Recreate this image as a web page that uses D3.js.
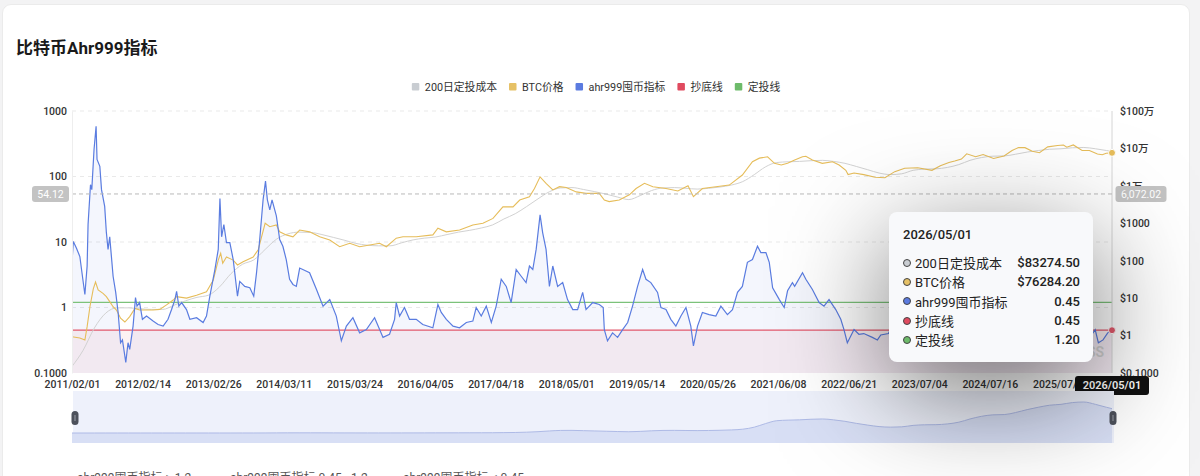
<!DOCTYPE html>
<html>
<head>
<meta charset="utf-8">
<script src="https://cdn.jsdelivr.net/npm/d3@7"></script>
<style>
  html, body { margin: 0; padding: 0; width: 1200px; height: 476px; overflow: hidden; background: #f3f3f4; }
  body { font-family: Roboto, "Noto Sans CJK SC", sans-serif; position: relative; }
  #card { position: absolute; left: 2px; top: 4px; width: 1186px; height: 520px; background: #fff;
          border: 1px solid #ebebeb; border-radius: 9px; }
  #chart { position: absolute; left: 0; top: 0; }
  #tip { position: absolute; left: 889px; top: 212px; width: 204px; height: 150px; box-sizing: border-box;
         padding: 14px 13px 0 14px; background: #f8f9fb; border-radius: 8px;
         box-shadow: 0 30px 110px rgba(0,0,0,0.55); color: #222; font-size: 13px; }
  #tip .tdate { font-weight: 500; height: 18px; line-height: 18px; margin-bottom: 9px; }
  #tip .row { display: flex; align-items: center; height: 19.3px; }
  #tip .dot { width: 6px; height: 6px; border-radius: 50%; border: 1.3px solid #444; margin-right: 4px; }
  #tip .lab { flex: 1; }
  #tip .val { font-weight: 500; }
</style>
</head>
<body>
<div id="card"></div>
<svg id="chart" width="1200" height="476"></svg>
<div id="tip"></div>
<script>
// ---- data ----
const seriesNames = ["200日定投成本", "BTC价格", "ahr999囤币指标", "抄底线", "定投线"];
const startDate = "2011-02-01";
const endDate = "2026-05-01";

const xTickLabels = ["2011/02/01", "2012/02/14", "2013/02/26", "2014/03/11", "2015/03/24", "2016/04/05",
  "2017/04/18", "2018/05/01", "2019/05/14", "2020/05/26", "2021/06/08", "2022/06/21", "2023/07/04",
  "2024/07/16", "2025/07/29"];
const leftTicks = [0.1, 1, 10, 100, 1000];
const leftTickLabels = ["0.1000", "1", "10", "100", "1000"];
const rightTicks = [0.1, 1, 10, 100, 1000, 1e4, 1e5, 1e6];
const rightTickLabels = ["$0.1000", "$1", "$10", "$100", "$1000", "$1万", "$10万", "$100万"];

const bottomLine = 0.45;
const dcaLine = 1.2;

const ahr999 = [
  ["2011-02-01",4.9],["2011-02-08",10.2],["2011-02-25",8.0],["2011-03-15",6.0],["2011-03-31",2.7],["2011-04-11",1.58],
  ["2011-04-23",4.3],["2011-04-28",18.5],["2011-05-11",75],["2011-05-18",63],["2011-05-30",259],["2011-06-10",585],
  ["2011-06-15",182],["2011-06-30",143],["2011-07-09",63],["2011-07-26",35],["2011-08-04",14],["2011-08-13",7.7],
  ["2011-08-22",12],["2011-09-09",3.0],["2011-09-23",1.7],["2011-10-06",0.84],["2011-10-19",0.29],["2011-10-29",0.32],
  ["2011-11-16",0.145],["2011-11-28",0.29],["2011-12-07",0.23],["2011-12-25",0.52],["2012-01-07",1.42],["2012-01-15",1.05],
  ["2012-01-29",1.19],["2012-02-13",0.66],["2012-03-06",0.74],["2012-04-10",0.62],["2012-05-07",0.55],["2012-06-03",0.52],
  ["2012-06-29",0.66],["2012-07-18",0.93],["2012-08-05",1.32],["2012-08-14",1.77],["2012-08-26",1.05],["2012-09-10",1.19],
  ["2012-10-06",0.93],["2012-10-24",0.66],["2012-11-29",0.70],["2013-01-03",0.59],["2013-01-21",0.74],["2013-02-08",1.49],
  ["2013-03-07",3.8],["2013-03-25",7.7],["2013-04-03",46],["2013-04-12",12],["2013-04-24",18.5],["2013-05-08",9.8],
  ["2013-05-26",9.8],["2013-06-13",5.4],["2013-07-06",1.49],["2013-07-18",2.5],["2013-08-14",2.1],["2013-09-10",2.0],
  ["2013-10-01",1.49],["2013-10-16",3.4],["2013-11-02",10.9],["2013-11-20",44],["2013-12-03",85],["2013-12-13",44],
  ["2013-12-26",31],["2014-01-07",44],["2014-01-30",25],["2014-02-17",10.9],["2014-03-06",8.6],["2014-03-24",5.4],
  ["2014-04-11",2.7],["2014-04-29",2.25],["2014-05-17",2.1],["2014-06-04",4.0],["2014-07-27",3.4],["2014-09-02",1.88],
  ["2014-10-07",1.05],["2014-11-12",1.32],["2014-12-17",0.74],["2015-01-13",0.31],["2015-02-09",0.52],["2015-03-16",0.70],
  ["2015-04-21",0.41],["2015-05-27",0.46],["2015-07-10",0.70],["2015-08-06",0.46],["2015-08-24",0.35],["2015-09-28",0.39],
  ["2015-10-25",0.66],["2015-11-03",1.19],["2015-11-21",0.74],["2015-12-17",1.0],["2016-01-13",0.66],["2016-02-18",0.66],
  ["2016-03-24",0.55],["2016-05-17",0.49],["2016-06-13",1.11],["2016-07-01",0.84],["2016-07-28",0.66],["2016-09-02",0.52],
  ["2016-10-07",0.49],["2016-11-12",0.59],["2016-12-17",0.62],["2017-01-04",1.0],["2017-01-31",0.74],["2017-02-27",1.05],
  ["2017-03-26",0.59],["2017-04-21",1.05],["2017-05-18",2.7],["2017-06-14",2.1],["2017-07-10",1.19],["2017-08-06",3.8],
  ["2017-09-02",3.0],["2017-09-28",2.4],["2017-10-16",4.3],["2017-11-03",3.8],["2017-11-21",7.7],["2017-12-12",26],
  ["2017-12-26",13.8],["2018-01-13",7.7],["2018-01-31",2.1],["2018-02-18",4.3],["2018-03-16",2.1],["2018-04-12",2.4],
  ["2018-05-08",1.32],["2018-06-05",0.93],["2018-07-01",0.93],["2018-07-28",1.7],["2018-08-15",0.93],["2018-09-20",1.19],
  ["2018-10-25",1.11],["2018-11-15",1.0],["2018-11-21",0.46],["2018-12-08",0.31],["2019-01-04",0.41],["2019-01-31",0.35],
  ["2019-02-27",0.46],["2019-03-26",0.59],["2019-04-21",1.05],["2019-05-18",2.1],["2019-06-14",3.8],["2019-07-02",2.7],
  ["2019-07-28",2.4],["2019-09-02",1.7],["2019-09-20",1.0],["2019-10-17",0.93],["2019-11-12",0.66],["2019-12-09",0.52],
  ["2020-01-05",0.74],["2020-02-01",1.0],["2020-02-27",0.52],["2020-03-12",0.26],["2020-04-03",0.52],["2020-04-29",0.84],
  ["2020-06-04",0.78],["2020-07-10",0.74],["2020-08-06",1.05],["2020-09-10",0.78],["2020-10-07",0.93],["2020-11-03",1.7],
  ["2020-11-29",2.1],["2020-12-26",4.9],["2021-01-22",5.4],["2021-02-18",8.6],["2021-03-08",6.9],["2021-04-04",6.9],
  ["2021-04-22",4.9],["2021-05-10",2.0],["2021-06-15",1.32],["2021-07-11",1.0],["2021-07-29",1.8],["2021-08-24",2.4],
  ["2021-09-05",2.1],["2021-10-17",3.4],["2021-11-04",2.7],["2021-12-09",1.88],["2022-01-14",1.19],["2022-02-09",1.05],
  ["2022-03-08",1.32],["2022-04-13",0.93],["2022-05-10",0.66],["2022-05-27",0.46],["2022-06-14",0.29],["2022-07-20",0.46],
  ["2022-08-15",0.39],["2022-09-10",0.40],["2022-10-26",0.35],["2022-11-22",0.32],["2022-12-10",0.38],["2023-01-20",0.40],
  ["2023-02-09",0.52],["2023-03-10",0.45],["2023-04-15",0.62],["2023-06-15",0.50],["2023-07-15",0.58],["2023-09-10",0.45],
  ["2023-10-25",0.62],["2023-12-10",0.90],["2024-01-20",0.80],["2024-03-12",1.5],["2024-05-01",0.90],["2024-06-05",1.05],
  ["2024-07-05",0.70],["2024-08-05",0.60],["2024-09-06",0.60],["2024-10-28",0.90],["2024-12-05",1.3],["2025-01-20",1.2],
  ["2025-02-28",0.80],["2025-04-08",0.65],["2025-05-22",1.1],["2025-07-14",1.15],["2025-08-20",1.0],["2025-10-06",1.05],
  ["2025-11-10",0.70],["2025-12-20",0.50],["2026-01-14",0.39],["2026-01-31",0.46],["2026-02-17",0.29],["2026-03-14",0.32],
  ["2026-04-08",0.41],["2026-05-01",0.45]
];

const btcPrice = [
  ["2011-02-01",0.93],["2011-03-15",0.86],["2011-04-11",0.76],["2011-04-23",1.73],["2011-05-08",5.9],["2011-05-26",17.6],
  ["2011-06-07",27],["2011-06-21",16.6],["2011-07-17",13.4],["2011-08-04",11],["2011-08-22",8.1],["2011-09-09",5.9],
  ["2011-09-27",4.8],["2011-10-19",2.9],["2011-11-11",2.3],["2011-12-07",3.2],["2012-01-04",5.3],["2012-01-29",4.8],
  ["2012-04-10",4.8],["2012-05-16",5.0],["2012-06-21",6.6],["2012-07-27",8.9],["2012-08-14",11],["2012-10-06",10],
  ["2012-11-29",12],["2013-01-21",14.8],["2013-02-26",30],["2013-03-25",104],["2013-04-07",158],["2013-04-18",86],
  ["2013-05-08",126],["2013-06-13",104],["2013-07-06",77],["2013-08-05",94],["2013-09-28",126],["2013-10-25",195],
  ["2013-11-12",436],["2013-12-01",1000],["2013-12-26",810],["2014-01-30",900],["2014-02-17",590],["2014-03-24",490],
  ["2014-04-29",436],["2014-06-04",660],["2014-07-27",590],["2014-09-19",436],["2014-11-12",356],["2015-01-04",236],
  ["2015-02-27",293],["2015-04-21",236],["2015-06-14",263],["2015-08-06",293],["2015-09-11",236],["2015-11-03",400],
  ["2015-12-09",436],["2016-02-18",436],["2016-05-17",490],["2016-06-13",740],["2016-07-28",590],["2016-10-07",660],
  ["2016-12-17",900],["2017-02-09",1000],["2017-04-04",1350],["2017-05-27",2750],["2017-07-20",2750],["2017-08-25",4170],
  ["2017-10-16",5130],["2017-11-12",8500],["2017-12-12",17400],["2018-01-13",11700],["2018-02-18",7800],["2018-03-26",9500],
  ["2018-05-01",9000],["2018-06-24",6900],["2018-08-15",6300],["2018-10-25",6300],["2018-11-21",4170],["2018-12-17",3800],
  ["2019-02-09",4170],["2019-04-04",5750],["2019-05-10",8500],["2019-06-24",11700],["2019-08-08",9500],["2019-10-17",8500],
  ["2019-12-20",7300],["2020-02-12",10000],["2020-03-12",5130],["2020-04-29",8500],["2020-07-10",9500],["2020-09-20",10500],
  ["2020-11-29",19500],["2021-01-22",44000],["2021-02-28",55000],["2021-04-13",60000],["2021-05-20",40000],["2021-06-25",36000],
  ["2021-07-29",40000],["2021-09-05",49000],["2021-10-17",60000],["2021-11-04",62000],["2021-12-09",49000],["2022-01-31",40000],
  ["2022-03-27",44000],["2022-05-01",36000],["2022-06-06",26000],["2022-06-18",20000],["2022-07-20",22000],["2022-09-10",20000],
  ["2022-11-10",17000],["2023-01-01",16500],["2023-02-23",24000],["2023-04-17",29500],["2023-06-26",30500],["2023-09-10",26000],
  ["2023-10-25",34500],["2023-12-10",42000],["2024-01-10",46000],["2024-02-15",52000],["2024-03-14",72000],["2024-05-01",60000],
  ["2024-06-10",69000],["2024-08-05",54000],["2024-09-30",63000],["2024-11-12",88000],["2024-12-17",106000],["2025-01-20",105000],
  ["2025-02-28",84000],["2025-04-08",77000],["2025-05-22",110000],["2025-07-14",120000],["2025-08-14",123000],["2025-09-01",108000],
  ["2025-10-06",124000],["2025-11-22",88000],["2025-12-31",88000],["2026-02-12",71000],["2026-03-10",68000],["2026-03-31",74000],
  ["2026-05-01",76284.2]
];

const cost200 = [
  ["2011-02-01",0.15],["2011-04-01",0.4],["2011-06-01",1.6],["2011-08-01",4.0],["2011-10-01",5.5],["2011-12-01",5.5],
  ["2012-02-01",5.2],["2012-04-01",5.0],["2012-06-01",5.0],["2012-08-01",6.5],["2012-10-01",8.5],["2012-12-01",10.5],
  ["2013-02-01",12],["2013-04-01",20],["2013-06-01",45],["2013-08-01",80],["2013-10-01",105],["2013-12-01",200],
  ["2014-02-01",380],["2014-04-01",520],["2014-06-01",580],["2014-08-01",570],["2014-10-01",500],["2014-12-01",420],
  ["2015-02-01",350],["2015-04-01",290],["2015-06-01",260],["2015-08-01",250],["2015-10-01",250],["2015-12-01",300],
  ["2016-02-01",360],["2016-04-01",400],["2016-06-01",430],["2016-08-01",500],["2016-10-01",580],["2016-12-01",650],
  ["2017-02-01",750],["2017-04-01",900],["2017-06-01",1300],["2017-08-01",1800],["2017-10-01",2800],["2017-12-01",4500],
  ["2018-02-01",7000],["2018-04-01",8800],["2018-06-01",9000],["2018-08-01",8000],["2018-10-01",7000],["2018-12-01",6000],
  ["2019-02-01",5000],["2019-04-01",4300],["2019-06-01",5500],["2019-08-01",7500],["2019-10-01",8800],["2019-12-01",9000],
  ["2020-02-01",8600],["2020-04-01",8200],["2020-06-01",8600],["2020-08-01",9300],["2020-10-01",10500],["2020-12-01",13000],
  ["2021-02-01",20000],["2021-04-01",32000],["2021-06-01",42000],["2021-08-01",44000],["2021-10-01",45000],["2021-12-01",47000],
  ["2022-02-01",48000],["2022-04-01",45000],["2022-06-01",40000],["2022-08-01",33000],["2022-10-01",27000],["2022-12-01",22000],
  ["2023-02-01",20000],["2023-04-01",21000],["2023-06-01",26000],["2023-08-01",28000],["2023-10-01",28500],["2023-12-01",31000],
  ["2024-02-01",37000],["2024-04-01",48000],["2024-06-01",57000],["2024-08-01",62000],["2024-10-01",63000],["2024-12-01",70000],
  ["2025-02-01",80000],["2025-04-01",88000],["2025-06-01",95000],["2025-08-01",98000],["2025-10-01",104000],["2025-12-01",106000],
  ["2026-02-01",98000],["2026-04-01",88000],["2026-05-01",83274.5]
];

// tooltip / crosshair readings
const tipDate = "2026/05/01";
const tipValues = ["$83274.50", "$76284.20", "0.45", "0.45", "1.20"];
const pointerLeft = 54.12;
const pointerRight = "6,072.02";
const bottomNotes = ["ahr999囤币指标 > 1.2", "ahr999囤币指标 0.45 - 1.2", "ahr999囤币指标 < 0.45"];

// ---- styles ----
const colors = ["#c9cdd2", "#e6c166", "#5b7be0", "#e04a5f", "#6dbb6a"];
const lineColors = ["#d2d2d2", "#e6bd5a", "#5a7ce0", "#e2596c", "#7cc27a"];
const fontCJK = "Roboto, 'Noto Sans CJK SC', sans-serif";

const parse = d3.timeParse("%Y-%m-%d");
const parseTick = d3.timeParse("%Y/%m/%d");
const plot = { left: 72, right: 1112, top: 111, bottom: 373 };

const x = d3.scaleTime().domain([parse(startDate), parse(endDate)]).range([plot.left, plot.right]);
const yL = d3.scaleLog().domain([0.1, 1000]).range([plot.bottom, plot.top]);
const yR = d3.scaleLog().domain([0.1, 1e6]).range([plot.bottom, plot.top]);

const svg = d3.select("#chart").style("font-family", fontCJK);

// title
svg.append("text").attr("x", 16).attr("y", 54).attr("font-size", 17).attr("font-weight", 700)
  .attr("fill", "#1a1a1a").text("比特币Ahr999指标");

// legend
const legend = svg.append("g").attr("font-size", 10.8).attr("fill", "#333");
let cursor = 0;
seriesNames.forEach((name, i) => {
  const g = legend.append("g");
  g.append("rect").attr("x", 0).attr("y", -4).attr("width", 7.5).attr("height", 7.5).attr("rx", 1).attr("fill", colors[i]);
  const t = g.append("text").attr("x", 13).attr("y", 0).attr("dy", "0.36em").text(name);
  const w = 13 + t.node().getComputedTextLength();
  g.attr("transform", `translate(${cursor},0)`);
  cursor += w + 12;
});
legend.attr("transform", `translate(${596 - (cursor - 12) / 2},87)`);

// clip
svg.append("clipPath").attr("id", "clip").append("rect")
  .attr("x", plot.left).attr("y", plot.top).attr("width", plot.right - plot.left).attr("height", plot.bottom - plot.top);

// grid
svg.append("g").selectAll("line").data(leftTicks.filter(d => d > 0.1)).join("line")
  .attr("x1", plot.left).attr("x2", plot.right).attr("y1", d => yL(d)).attr("y2", d => yL(d))
  .attr("stroke", "#e9e9e9").attr("stroke-dasharray", "4,4");

const body = svg.append("g").attr("clip-path", "url(#clip)");
const pts = arr => arr.map(d => [parse(d[0]), d[1]]);
const ahrPts = pts(ahr999), btcPts = pts(btcPrice), costPts = pts(cost200);
const domainDates = x.domain();

// 抄底线 area
body.append("path").datum(domainDates)
  .attr("d", d3.area().x(d => x(d)).y0(plot.bottom).y1(yL(bottomLine)))
  .attr("fill", "rgba(224,74,95,0.075)");

// ahr999 area
body.append("path").datum(ahrPts)
  .attr("d", d3.area().x(d => x(d[0])).y0(plot.bottom).y1(d => yL(d[1])))
  .attr("fill", "rgba(91,123,224,0.065)");

// horizontal reference lines
body.append("path").datum(domainDates)
  .attr("d", d3.line().x(d => x(d)).y(yL(dcaLine)))
  .attr("stroke", lineColors[4]).attr("stroke-width", 1.2).attr("fill", "none");
body.append("path").datum(domainDates)
  .attr("d", d3.line().x(d => x(d)).y(yL(bottomLine)))
  .attr("stroke", lineColors[3]).attr("stroke-width", 1.2).attr("fill", "none");

// cost + price (right axis)
body.append("path").datum(costPts)
  .attr("d", d3.line().x(d => x(d[0])).y(d => yR(d[1])).curve(d3.curveMonotoneX))
  .attr("stroke", lineColors[0]).attr("stroke-width", 1).attr("fill", "none");
body.append("path").datum(btcPts)
  .attr("d", d3.line().x(d => x(d[0])).y(d => yR(d[1])))
  .attr("stroke", lineColors[1]).attr("stroke-width", 1.1).attr("fill", "none");

// ahr999 line
body.append("path").datum(ahrPts)
  .attr("d", d3.line().x(d => x(d[0])).y(d => yL(d[1])))
  .attr("stroke", lineColors[2]).attr("stroke-width", 1.2).attr("fill", "none");

// watermark partly under tooltip
svg.append("text").attr("x", 1104).attr("y", 357).attr("text-anchor", "end").attr("font-size", 14)
  .attr("fill", "#cfcfcf").attr("font-weight", 600).text("COINGLASS");

// crosshair
const lastDate = parse(endDate);
svg.append("line").attr("x1", x(lastDate)).attr("x2", x(lastDate)).attr("y1", plot.top).attr("y2", plot.bottom)
  .attr("stroke", "#d6d6d6");
svg.append("line").attr("x1", plot.left).attr("x2", plot.right).attr("y1", yL(pointerLeft)).attr("y2", yL(pointerLeft))
  .attr("stroke", "#b9b9b9").attr("stroke-dasharray", "4,3");

// axes
const axisText = sel => sel.selectAll("text").attr("fill", "#333").attr("font-size", 10.5).attr("font-weight", 500)
  .attr("font-family", fontCJK);
svg.append("g").attr("transform", `translate(${plot.left},0)`)
  .call(d3.axisLeft(yL).tickValues(leftTicks).tickFormat((d, i) => leftTickLabels[i]).tickSize(0).tickPadding(5))
  .call(g => g.select(".domain").attr("stroke", "#eee")).call(axisText);
svg.append("g").attr("transform", `translate(${plot.right},0)`)
  .call(d3.axisRight(yR).tickValues(rightTicks).tickFormat((d, i) => rightTickLabels[i]).tickSize(0).tickPadding(8))
  .call(g => g.select(".domain").remove()).call(axisText);
svg.append("g").attr("transform", `translate(0,${plot.bottom})`)
  .call(d3.axisBottom(x).tickValues(xTickLabels.map(parseTick)).tickFormat(d3.timeFormat("%Y/%m/%d")).tickSize(0).tickPadding(8))
  .call(g => g.select(".domain").remove()).call(axisText);

// pointer labels
const pill = (cx, cy, w, txt) => {
  svg.append("rect").attr("x", cx - w / 2).attr("y", cy - 8).attr("width", w).attr("height", 16).attr("rx", 3)
    .attr("fill", "#c3c3c3");
  svg.append("text").attr("x", cx).attr("y", cy).attr("dy", "0.35em").attr("text-anchor", "middle")
    .attr("font-size", 10.5).attr("fill", "#fff").text(txt);
};
pill(50.5, yL(pointerLeft), 37, d3.format(".2f")(pointerLeft));
pill(1141, yL(pointerLeft), 51, pointerRight);

svg.append("rect").attr("x", x(lastDate) - 37).attr("y", 376).attr("width", 74).attr("height", 19).attr("rx", 3)
  .attr("fill", "#111");
svg.append("text").attr("x", x(lastDate)).attr("y", 385.5).attr("dy", "0.35em").attr("text-anchor", "middle")
  .attr("font-size", 11).attr("font-weight", 600).attr("fill", "#fff").text(tipDate);

// end markers
svg.append("circle").attr("cx", x(lastDate)).attr("cy", yR(btcPts[btcPts.length - 1][1])).attr("r", 3.5)
  .attr("fill", lineColors[1]).attr("stroke", "#fff").attr("stroke-width", 1);
svg.append("circle").attr("cx", x(lastDate)).attr("cy", yL(bottomLine)).attr("r", 3.5)
  .attr("fill", lineColors[3]).attr("stroke", "#fff").attr("stroke-width", 1);

// data zoom slider (shadow drawn from the 200-day cost, linear)
const sl = { top: 391, bottom: 443 };
svg.append("rect").attr("x", 73).attr("y", sl.top).attr("width", 1041).attr("height", sl.bottom - sl.top)
  .attr("fill", "#eef1fb");
const ys = d3.scaleLinear().domain([0, d3.max(costPts, d => d[1])]).range([433, 402]);
svg.append("path").datum(costPts)
  .attr("d", d3.area().x(d => x(d[0])).y0(sl.bottom).y1(d => ys(d[1])).curve(d3.curveMonotoneX))
  .attr("fill", "#d8dff5");
svg.append("path").datum(costPts)
  .attr("d", d3.line().x(d => x(d[0])).y(d => ys(d[1])).curve(d3.curveMonotoneX))
  .attr("fill", "none").attr("stroke", "#aebae6").attr("stroke-width", 1);
[75, 1113].forEach(hx => {
  svg.append("rect").attr("x", hx - 3.5).attr("y", 411).attr("width", 7).attr("height", 14).attr("rx", 3.5)
    .attr("fill", "#4d515b");
  svg.append("line").attr("x1", hx).attr("x2", hx).attr("y1", 415).attr("y2", 421).attr("stroke", "#9a9ea8");
});

// notes below, cut by the frame as in the reference
svg.append("g").selectAll("text").data(bottomNotes).join("text")
  .attr("x", (d, i) => [77, 230, 403][i]).attr("y", 482).attr("font-size", 12).attr("fill", "#555").text(d => d);

// tooltip
const tip = d3.select("#tip");
tip.append("div").attr("class", "tdate").text(tipDate);
const rows = tip.selectAll(".row").data(seriesNames.map((n, i) => ({ n, v: tipValues[i], c: colors[i] })))
  .join("div").attr("class", "row");
rows.append("span").attr("class", "dot").style("background", d => d.c);
rows.append("span").attr("class", "lab").text(d => d.n);
rows.append("span").attr("class", "val").text(d => d.v);
</script>
</body>
</html>
